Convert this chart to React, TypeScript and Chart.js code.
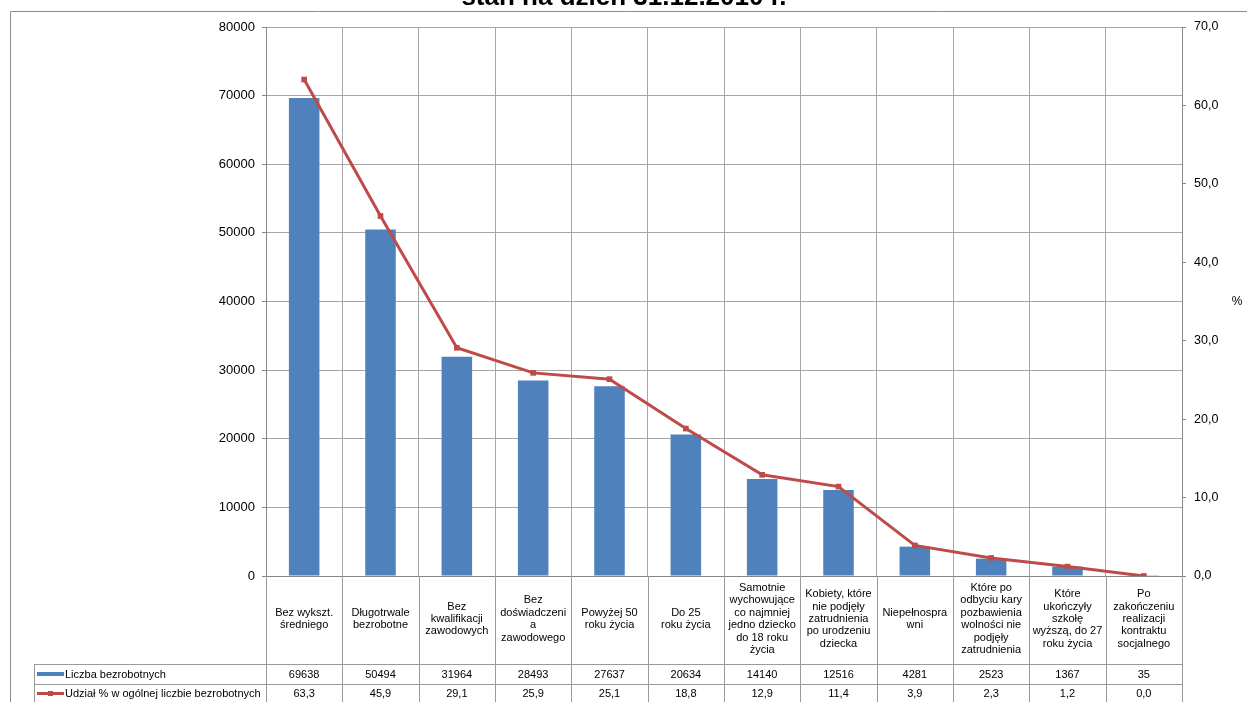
import React, { useEffect, useRef } from "react";
import { Chart, registerables } from "chart.js";

Chart.register(...registerables);

const TITLE = "stan na dzień 31.12.2010 r.";
const categoryLines: string[][] = [
  ["Bez wykszt.", "średniego"],
  ["Długotrwale", "bezrobotne"],
  ["Bez", "kwalifikacji", "zawodowych"],
  ["Bez", "doświadczeni", "a", "zawodowego"],
  ["Powyżej 50", "roku życia"],
  ["Do 25", "roku życia"],
  ["Samotnie", "wychowujące", "co najmniej", "jedno dziecko", "do 18 roku", "życia"],
  ["Kobiety, które", "nie podjęły", "zatrudnienia", "po urodzeniu", "dziecka"],
  ["Niepełnospra", "wni"],
  ["Które po", "odbyciu kary", "pozbawienia", "wolności nie", "podjęły", "zatrudnienia"],
  ["Które", "ukończyły", "szkołę", "wyższą, do 27", "roku życia"],
  ["Po", "zakończeniu", "realizacji", "kontraktu", "socjalnego"],
];
const countLabel = "Liczba bezrobotnych";
const shareLabel = "Udział % w ogólnej liczbie bezrobotnych";
const counts = [69638, 50494, 31964, 28493, 27637, 20634, 14140, 12516, 4281, 2523, 1367, 35];
const shares = [63.3, 45.9, 29.1, 25.9, 25.1, 18.8, 12.9, 11.4, 3.9, 2.3, 1.2, 0.0];
const leftAxis = { min: 0, max: 80000, step: 10000 };
const rightAxis = { min: 0, max: 70, step: 10 };
const rightAxisTitle = "%";

const BLUE = "#4F81BD";
const RED = "#BE4B48";
const GRID = "#A6A6A6";
const AXIS = "#868686";
const FONT = "'Liberation Sans', Arial, sans-serif";

const fmt = (v: number) => v.toFixed(1).replace(".", ",");

const tablePlugin = {
  id: "tablePlugin",
  afterDraw(chart: any) {
    const ctx = chart.ctx as CanvasRenderingContext2D;
    const area = chart.chartArea;
    const xs = chart.scales.x;
    const H = chart.height;
    const W = chart.width;
    const n = categoryLines.length;
    const cw = area.width / n;
    ctx.save();
    // outer frame
    ctx.strokeStyle = "#8C8C8C";
    ctx.lineWidth = 1;
    ctx.beginPath();
    ctx.moveTo(10.5, H);
    ctx.lineTo(10.5, 11.5);
    ctx.lineTo(W, 11.5);
    ctx.stroke();

    // title
    ctx.fillStyle = "#000";
    ctx.font = `bold 26px ${FONT}`;
    ctx.textAlign = "center";
    ctx.textBaseline = "alphabetic";
    ctx.fillText(TITLE, 624, 5);

    // right axis title
    ctx.font = `12px ${FONT}`;
    ctx.textBaseline = "middle";
    ctx.fillText(rightAxisTitle, 1237, 302);

    // table grid
    const rowTop1 = 664.5;
    const rowTop2 = 684.5;
    ctx.strokeStyle = "#9A9A9A";
    ctx.lineWidth = 1;
    ctx.beginPath();
    for (let i = 0; i <= n; i++) {
      const x = Math.round(area.left + i * cw) + 0.5;
      ctx.moveTo(x, area.bottom);
      ctx.lineTo(x, H);
    }
    ctx.moveTo(34, rowTop1);
    ctx.lineTo(area.right, rowTop1);
    ctx.moveTo(34, rowTop2);
    ctx.lineTo(area.right, rowTop2);
    ctx.moveTo(34.5, rowTop1);
    ctx.lineTo(34.5, H);
    ctx.stroke();

    // category labels
    ctx.fillStyle = "#000";
    ctx.font = `11px ${FONT}`;
    ctx.textAlign = "center";
    ctx.textBaseline = "middle";
    const lh = 12.4;
    const cy = 619;
    categoryLines.forEach((lines, i) => {
      const x = xs.getPixelForValue(i);
      const y0 = cy - ((lines.length - 1) * lh) / 2;
      lines.forEach((ln, j) => ctx.fillText(ln, x, y0 + j * lh));
      ctx.fillText(String(counts[i]), x, 674.5);
      ctx.fillText(fmt(shares[i]), x, 694);
    });

    // legend keys
    ctx.fillStyle = BLUE;
    ctx.fillRect(37, 672, 27, 4);
    ctx.strokeStyle = RED;
    ctx.lineWidth = 3;
    ctx.beginPath();
    ctx.moveTo(37, 693.5);
    ctx.lineTo(64, 693.5);
    ctx.stroke();
    ctx.fillStyle = RED;
    ctx.fillRect(48, 691, 5, 5);

    ctx.fillStyle = "#000";
    ctx.font = `11px ${FONT}`;
    ctx.textAlign = "left";
    ctx.fillText(countLabel, 65, 674.5);
    ctx.fillText(shareLabel, 65, 694);
    ctx.restore();
  },
};

export default function App() {
  const ref = useRef<HTMLCanvasElement | null>(null);
  useEffect(() => {
    if (!ref.current) return;
    const chart = new Chart(ref.current, {
      type: "bar",
      data: {
        labels: categoryLines.map((l) => l.join(" ")),
        datasets: [
          {
            type: "line",
            label: shareLabel,
            data: shares,
            yAxisID: "y1",
            borderColor: RED,
            backgroundColor: RED,
            borderWidth: 3,
            pointStyle: "rect",
            pointRadius: 4,
            pointBorderWidth: 0,
            tension: 0,
            order: 1,
          } as any,
          {
            type: "bar",
            label: countLabel,
            data: counts,
            yAxisID: "y",
            backgroundColor: BLUE,
            borderWidth: 0,
            categoryPercentage: 1,
            barPercentage: 0.4,
            order: 2,
          },
        ],
      },
      options: {
        animation: false,
        responsive: true,
        maintainAspectRatio: false,
        layout: { padding: { top: 27, left: 0, right: 0, bottom: 0 } },
        plugins: { legend: { display: false }, tooltip: { enabled: false }, title: { display: false } },
        scales: {
          x: {
            type: "category",
            offset: true,
            grid: { offset: true, color: GRID, drawTicks: false },
            border: { color: AXIS },
            ticks: { display: false },
            afterFit: (s: any) => {
              s.height = 126;
            },
          },
          y: {
            position: "left",
            min: leftAxis.min,
            max: leftAxis.max,
            grid: { color: GRID, tickLength: 4, tickColor: AXIS },
            border: { color: AXIS },
            ticks: {
              stepSize: leftAxis.step,
              padding: 7,
              color: "#000",
              font: { family: FONT, size: 13 },
              callback: (v: any) => String(v),
            },
            afterFit: (s: any) => {
              s.width = 266;
            },
          },
          y1: {
            position: "right",
            min: rightAxis.min,
            max: rightAxis.max,
            grid: { drawOnChartArea: false, tickLength: 4, tickColor: AXIS },
            border: { color: AXIS },
            ticks: {
              stepSize: rightAxis.step,
              padding: 8,
              color: "#000",
              font: { family: FONT, size: 12.5 },
              callback: (v: any) => fmt(Number(v)),
            },
            afterFit: (s: any) => {
              s.width = 65;
            },
          },
        },
      },
      plugins: [tablePlugin],
    });
    return () => chart.destroy();
  }, []);
  return (
    <div style={{ position: "fixed", left: 0, top: 0, width: 1247, height: 702, background: "#fff" }}>
      <canvas ref={ref} />
    </div>
  );
}
